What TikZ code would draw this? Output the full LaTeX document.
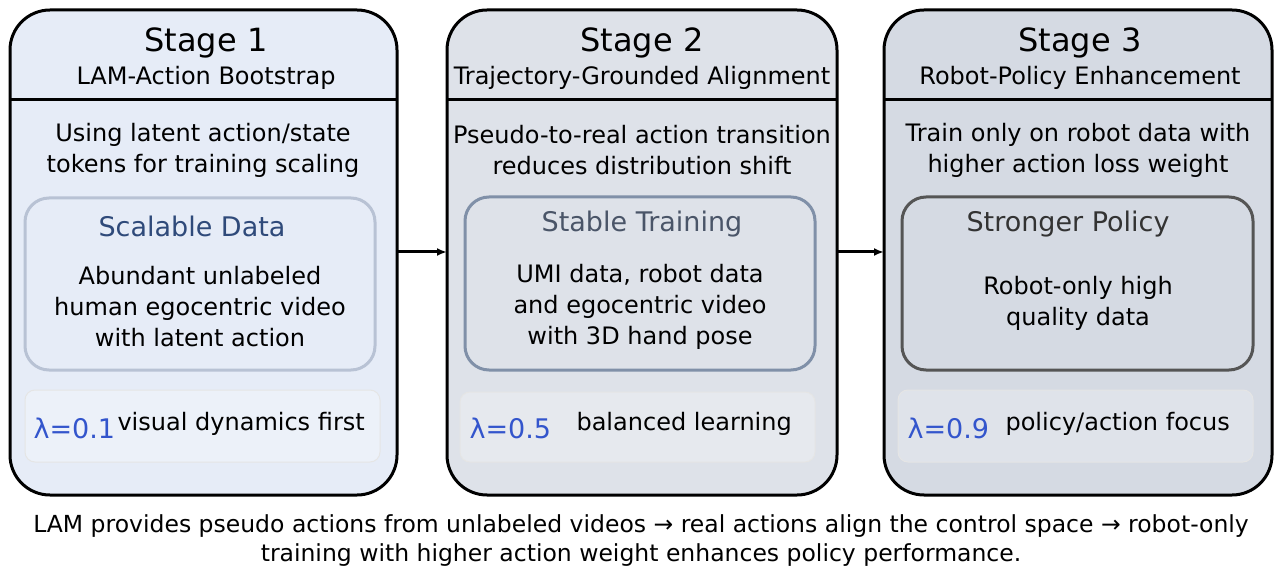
\documentclass[tikz,border=0pt]{standalone}
\usepackage{fontspec}
\setmainfont{DejaVu Sans}
\usetikzlibrary{positioning,arrows.meta}
\definecolor{stageA}{RGB}{230,236,247}
\definecolor{stageB}{RGB}{222,226,233}
\definecolor{stageC}{RGB}{213,218,227}
\definecolor{lamblue}{RGB}{51,85,204}
\tikzset{
  stage/.style={draw=black, line width=3pt, rounded corners=40pt},
  inner/.style={line width=3pt, rounded corners=24pt},
  lambox/.style={draw=white!80!gray, line width=1pt, rounded corners=10pt},
  ttl/.style={font=\fontsize{32pt}{34pt}\selectfont},
  sub/.style={font=\fontsize{24pt}{26pt}\selectfont},
  body/.style={font=\fontsize{24pt}{31pt}\selectfont, align=center},
  lam/.style={font=\fontsize{27pt}{28pt}\selectfont, text=lamblue},
  flow/.style={-{Latex[length=10pt,width=8pt]}, line width=3pt}
}
\begin{document}
\begin{tikzpicture}[x=1pt,y=-1pt]
\useasboundingbox (0,0) rectangle (1283,580);
% stage 1
\draw [stage, fill=stageA] (10,10) rectangle (397,495);
\draw [line width=3pt] (10,100) -- (397,100);
\node[ttl] (t1) at (206,43) {Stage 1};
\node[sub] (s1) at (206,78) {LAM-Action Bootstrap};
\node[body] (d1) at (203,150) {Using latent action/state\\tokens for training scaling};
\draw [inner, draw={rgb,255:red,184;green,194;blue,212}, fill=stageA] (25,198) rectangle (375,370);
\node[font=\fontsize{27pt}{28pt}\selectfont, text={rgb,255:red,47;green,74;blue,122}] (h1) at (192,226) {Scalable Data};
\node[body] (b1) at (200,307) {Abundant unlabeled\\human egocentric video\\with latent action};
\draw [lambox, fill=white!25!stageA] (25,390) rectangle (380,462);
\node[lam, anchor=west] (l1) at (30,428) {λ=0.1};
\node[sub, anchor=west] (v1) at (114,424) {visual dynamics first};
% stage 2
\draw [stage, fill=stageB] (447,10) rectangle (837,495);
\draw [line width=3pt] (447,100) -- (837,100);
\node[ttl] (t2) at (642,43) {Stage 2};
\node[sub] (s2) at (642,78) {Trajectory-Grounded Alignment};
\node[body] (d2) at (642,150) {Pseudo-to-real action transition\\reduces distribution shift};
\draw [inner, draw={rgb,255:red,128;green,144;blue,168}, fill=stageB] (465,197) rectangle (815,370);
\node[font=\fontsize{27pt}{28pt}\selectfont, text={rgb,255:red,74;green,85;blue,104}] (h2) at (642,224) {Stable Training};
\node[body] (b2) at (640,307) {UMI data, robot data\\and egocentric video\\with 3D hand pose};
\draw [lambox, fill=white!25!stageB] (460,392) rectangle (815,462);
\node[lam, anchor=west] (l2) at (466,428) {λ=0.5};
\node[sub, anchor=west] (v2) at (573,424) {balanced learning};
% stage 3
\draw [stage, fill=stageC] (884,10) rectangle (1272,495);
\draw [line width=3pt] (884,100) -- (1272,100);
\node[ttl] (t3) at (1080,43) {Stage 3};
\node[sub] (s3) at (1080,78) {Robot-Policy Enhancement};
\node[body] (d3) at (1078,150) {Train only on robot data with\\higher action loss weight};
\draw [inner, draw={rgb,255:red,85;green,85;blue,85}, fill=stageC] (902,197) rectangle (1253,370);
\node[font=\fontsize{27pt}{28pt}\selectfont, text={rgb,255:red,51;green,51;blue,51}] (h3) at (1068,224) {Stronger Policy};
\node[body] (b3) at (1078,303) {Robot-only high\\quality data};
\draw [lambox, fill=white!25!stageC] (898,390) rectangle (1253,462);
\node[lam, anchor=west] (l3) at (904,428) {λ=0.9};
\node[sub, anchor=west] (v3) at (1002,424) {policy/action focus};
% flow
\coordinate (o1) at (397,252); \coordinate (i2) at (447,252);
\coordinate (o2) at (837,252); \coordinate (i3) at (884,252);
\draw [flow] (o1) -- (i2);
\draw [flow] (o2) -- (i3);
% caption
\node[body, font=\fontsize{23.5pt}{29pt}\selectfont] (cap) at (641,541) {LAM provides pseudo actions from unlabeled videos → real actions align the control space → robot-only\\training with higher action weight enhances policy performance.};
\end{tikzpicture}
\end{document}
